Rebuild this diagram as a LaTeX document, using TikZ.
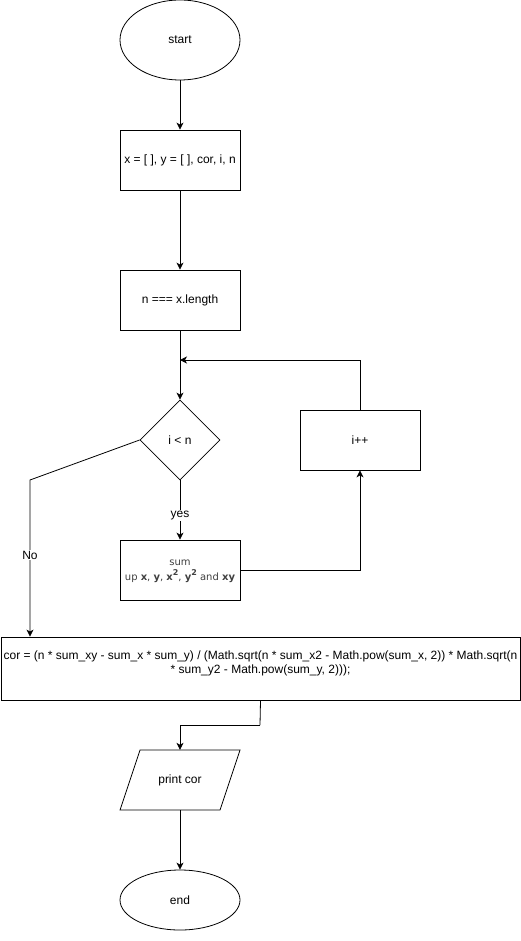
\documentclass[tikz,border=0pt]{standalone}
\usepackage{fontspec}
\setmainfont{Liberation Sans}
\newfontfamily\vfont{DejaVu Sans}
\usetikzlibrary{shapes.geometric,arrows.meta,calc}
\definecolor{sumgray}{HTML}{404040}
\newcommand{\upsq}{\raisebox{0.45em}{\fontsize{8}{8}\selectfont 2}}
\begin{document}
\begin{tikzpicture}[x=1pt,y=-1pt,
  every node/.style={font=\fontsize{12}{14}\selectfont, inner sep=0pt},
  proc/.style={draw, rectangle, line width=0.8pt, minimum width=120pt, minimum height=60pt},
  term/.style={draw, ellipse, line width=0.8pt, minimum width=120pt},
  dec/.style={draw, diamond, line width=0.8pt, minimum width=80pt, minimum height=80pt},
  flow/.style={line width=0.8pt, -{Stealth[length=7pt,width=7pt,inset=2pt]}},
  lbl/.style={fill=white, inner sep=1pt}]
\useasboundingbox (0,0) rectangle (521,941);

% shapes
\node[term, minimum height=80pt] (start) at (180,40) {start};
\node[proc] (init) at (180,160) {x = [ ], y = [ ], cor, i, n};
\node[proc] (len) at (180,300) {n === x.length};
\node[dec] (cond) at (180,440) {i {<} n};
\node[proc] (inc) at (360,440) {i++};
\node[proc] (sum) at (180,570) {};
\node[align=center, text=sumgray, font=\vfont\fontsize{10}{15}\selectfont] (sumtxt) at (180,571)
  {sum\\up \textbf{x}, \textbf{y}, \textbf{x\upsq}, \textbf{y\upsq} and \textbf{xy}};
\node[draw, rectangle, line width=0.8pt, minimum width=519pt, minimum height=63pt] (cor) at (260.5,668.5) {};
\node[align=center, font=\fontsize{12}{14}\selectfont] (cortxt) at (260.5,663)
  {cor = (n * sum\_xy - sum\_x * sum\_y) / (Math.sqrt(n * sum\_x2 - Math.pow(sum\_x, 2)) * Math.sqrt(n\\
   * sum\_y2 - Math.pow(sum\_y, 2)));};
\node[rectangle, minimum width=100pt, minimum height=60pt] (pr) at (180,780) {print cor};
\draw[line width=0.8pt] (140,750) -- (240,750) -- (220,810) -- (120,810) -- cycle;
\node[term, minimum height=60pt] (stop) at (180,900) {end};

% connectors
\coordinate (join) at (180,360);
\coordinate (nobend) at (30,480);
\coordinate (merge) at (260,725);
\draw[flow] (start.south) -- (init.north);
\draw[flow] (init.south) -- (len.north);
\draw[flow] (len.south) -- (cond.north);
\draw[flow] (inc.north) |- (join);
\draw[flow] (cond.south) -- node[lbl, pos=0.6] {yes} (sum.north);
\draw[flow] (sum.east) -| (inc.south);
\draw[flow] (cond.west) -- (nobend) -- node[lbl, pos=0.48] {No} (nobend |- cor.north);
\draw[line width=0.8pt] (cor.south) -- (merge);
\draw[flow] (merge) -| (pr.north);
\draw[flow] (pr.south) -- (stop.north);
\end{tikzpicture}
\end{document}
